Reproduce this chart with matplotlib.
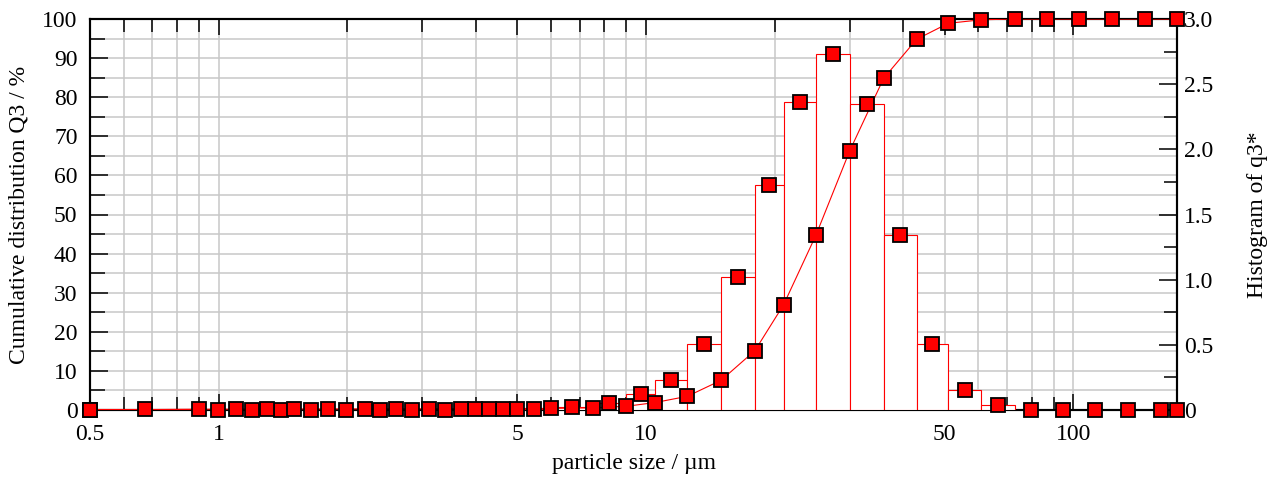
import numpy as np
import matplotlib
matplotlib.use('Agg')
import matplotlib.pyplot as plt
from matplotlib.ticker import FixedLocator, FixedFormatter, NullFormatter, MultipleLocator

# class edges (µm) and cumulative distribution Q3 (%) at the edges
EDGES = [0.5, 0.9, 1.1, 1.3, 1.5, 1.8, 2.2, 2.6, 3.1, 3.7, 4.3, 5.0, 6.0, 7.5, 9.0,
         10.5, 12.5, 15, 18, 21, 25, 30, 36, 43, 51, 61, 73, 87, 103, 123, 147, 175]
Q3 = [0.0, 0.2, 0.22, 0.24, 0.26, 0.28, 0.30, 0.31, 0.32, 0.34, 0.36, 0.38, 0.41, 0.55, 0.95,
      1.9, 3.5, 7.6, 15.2, 26.9, 44.7, 66.3, 84.8, 94.8, 98.9, 99.8, 100, 100, 100, 100, 100, 100]

# histogram q3* per class (one value per class between two edges)
Q3_HIST = [0.008, 0.002, 0.003, 0.003, 0.002, 0.002, 0.002, 0.001, 0.003, 0.004, 0.005,
           0.006, 0.025, 0.055, 0.12, 0.23, 0.51, 1.02, 1.73, 2.36, 2.73, 2.35, 1.34,
           0.51, 0.15, 0.04, 0.0, 0.0, 0.0, 0.0, 0.0]

X_MAJOR = [0.5, 1, 5, 10, 50, 100]
X_MAJOR_LABELS = ["0.5", "1", "5", "10", "50", "100"]
X_MINOR = [0.6, 0.7, 0.8, 0.9, 2, 3, 4, 6, 7, 8, 9, 20, 30, 40, 60, 70, 80, 90]
Y2_TICKS = [0, 0.5, 1.0, 1.5, 2.0, 2.5, 3.0]
Y2_LABELS = ["0", "0.5", "1.0", "1.5", "2.0", "2.5", "3.0"]

RED = "#ff0000"
GRID = "#c8c8c8"

plt.rcParams.update({"font.family": ["Liberation Serif", "DejaVu Serif"],
                     "font.size": 17})

edges = np.array(EDGES)
hist = np.array(Q3_HIST)
centres = np.sqrt(edges[:-1] * edges[1:])
hist_x = np.concatenate([[edges[0]], centres, [edges[-1]]])
hist_y = np.concatenate([[0.0], hist, [0.0]])

fig = plt.figure(figsize=(12.71, 4.79), dpi=100)
ax = fig.add_axes([90 / 1271, 1 - 410 / 479, (1177 - 90) / 1271, (410 - 19) / 479])
ax.set_xscale("log")
ax.set_xlim(0.5, 175)
ax.set_ylim(0, 100)

ax.xaxis.set_major_locator(FixedLocator(X_MAJOR))
ax.xaxis.set_major_formatter(FixedFormatter(X_MAJOR_LABELS))
ax.xaxis.set_minor_locator(FixedLocator(X_MINOR))
ax.xaxis.set_minor_formatter(NullFormatter())
ax.yaxis.set_major_locator(MultipleLocator(10))
ax.yaxis.set_minor_locator(MultipleLocator(5))

ax.grid(True, which="both", color=GRID, linewidth=1.1, zorder=0)
ax.set_axisbelow(True)

ax.tick_params(axis="x", which="both", direction="in", top=True, bottom=True,
               width=1.1, color="black", pad=10, labelsize=17)
ax.tick_params(axis="x", which="major", length=11.5)
ax.tick_params(axis="x", which="minor", length=9.5)
ax.tick_params(axis="y", which="both", direction="in", width=1.1, pad=9, labelsize=17)
ax.tick_params(axis="y", which="major", length=13)
ax.tick_params(axis="y", which="minor", length=10.5)
for s in ax.spines.values():
    s.set_linewidth(1.5)

ax.set_xlabel("particle size / µm", fontsize=17, labelpad=6)
ax.set_ylabel("Cumulative distribution Q3 / %", fontsize=17, labelpad=9)

ax2 = ax.twinx()
ax2.set_ylim(0, 3.0)
ax2.yaxis.set_major_locator(FixedLocator(Y2_TICKS))
ax2.yaxis.set_major_formatter(FixedFormatter(Y2_LABELS))
ax2.yaxis.set_minor_locator(MultipleLocator(0.25))
ax2.tick_params(axis="y", which="both", direction="in", width=1.1, pad=5, labelsize=17)
ax2.tick_params(axis="y", which="major", length=13)
ax2.tick_params(axis="y", which="minor", length=9.5)
for s in ax2.spines.values():
    s.set_linewidth(1.5)
ax2.set_ylabel("Histogram of q3*", fontsize=17, labelpad=24)

# histogram bars (only classes with content)
keep = hist > 0
ax2.bar(edges[:-1][keep], hist[keep], width=np.diff(edges)[keep], align="edge",
        facecolor="white", edgecolor=RED, linewidth=0.8, zorder=3)

# cumulative curve, drawn on top of the bars in the left-axis scale
ax2.plot(EDGES, Q3, color=RED, linewidth=0.8, transform=ax.transData, zorder=4)

mk = dict(linestyle="none", marker="s", markersize=9.5, markerfacecolor=RED,
          markeredgecolor="black", markeredgewidth=1.3, clip_on=False)
ax2.plot(hist_x, hist_y, zorder=5, **mk)
ax2.plot(EDGES, Q3, transform=ax.transData, zorder=6, **mk)

fig.savefig("out.png", dpi=100)
